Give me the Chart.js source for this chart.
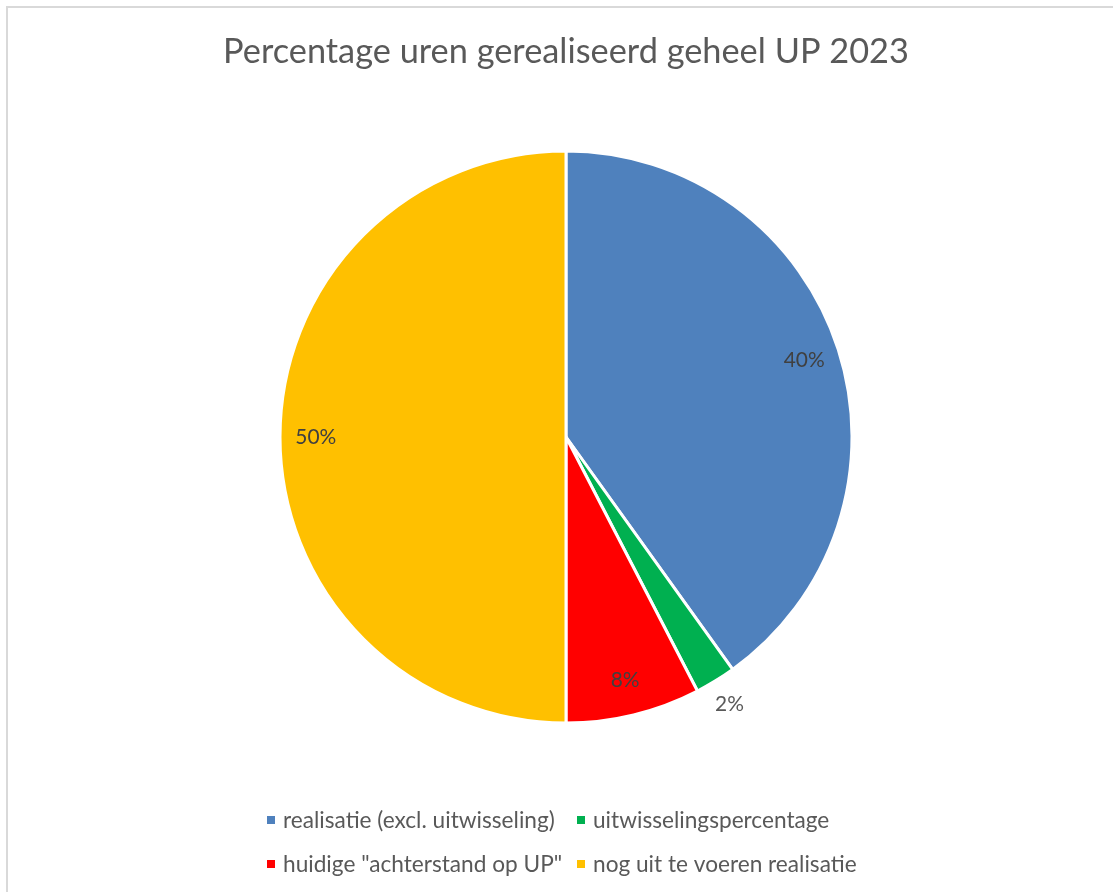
<!DOCTYPE html>
<html>
<head>
<meta charset="utf-8">
<script src="https://cdn.jsdelivr.net/npm/chart.js@4"></script>
<style>
  html, body { margin: 0; padding: 0; background: #ffffff; overflow: hidden; }
  #frame { position: absolute; left: 6px; top: 6px; width: 1300px; height: 1100px;
           border-left: 2px solid #d9d9d9; border-top: 2px solid #d9d9d9; box-sizing: border-box; }
  #c { position: absolute; left: 0; top: 0; }
</style>
</head>
<body>
<div id="frame"></div>
<canvas id="c" width="1113" height="892"></canvas>
<script>
// ---- data ----
const titleText = 'Percentage uren gerealiseerd geheel UP 2023';
const categories = [
  'realisatie (excl. uitwisseling)',
  'uitwisselingspercentage',
  'huidige "achterstand op UP"',
  'nog uit te voeren realisatie'
];
const values = [40.1, 2.3, 7.6, 50.0];
const colors = ['#4F81BD', '#00B050', '#FF0000', '#FFC000'];

// ---- font fitting ----
const FONT = 'Lato, "Open Sans", sans-serif';
const mctx = document.createElement('canvas').getContext('2d');
function fit(text, target) {
  mctx.font = '100px ' + FONT;
  return 100 * target / mctx.measureText(text).width;
}
const titleSize = fit(titleText, 686);
const legendSize = fit(categories[0], 272);
const labelSize = fit('50%', 41);

const labelPlugin = {
  id: 'pieLabels',
  afterDatasetsDraw(chart) {
    const ctx = chart.ctx;
    const meta = chart.getDatasetMeta(0);
    const data = chart.data.datasets[0].data;
    const total = data.reduce((a, b) => a + b, 0);
    ctx.save();
    ctx.font = labelSize + 'px ' + FONT;
    ctx.textAlign = 'center';
    ctx.textBaseline = 'middle';
    meta.data.forEach((arc, i) => {
      const p = arc.getProps(['x', 'y', 'startAngle', 'endAngle', 'outerRadius'], true);
      const mid = (p.startAngle + p.endAngle) / 2;
      const pct = data[i] / total * 100;
      let r, col;
      if (pct < 5) { r = p.outerRadius + 27; col = '#595959'; }
      else { r = p.outerRadius * 0.875; col = '#404040'; }
      ctx.fillStyle = col;
      ctx.fillText(Math.round(pct) + '%', p.x + Math.cos(mid) * r, p.y + Math.sin(mid) * r);
    });
    ctx.restore();
  }
};

const legendPlugin = {
  id: 'gridLegend',
  afterDraw(chart) {
    const ctx = chart.ctx;
    const colX = [267, 577];
    const rowY = [820, 864];
    ctx.save();
    ctx.font = legendSize + 'px ' + FONT;
    ctx.textAlign = 'left';
    ctx.textBaseline = 'middle';
    chart.data.labels.forEach((lab, i) => {
      const x = colX[i % 2], y = rowY[Math.floor(i / 2)];
      ctx.fillStyle = chart.data.datasets[0].backgroundColor[i];
      ctx.fillRect(x, y - 4, 8, 8);
      ctx.fillStyle = '#595959';
      ctx.fillText(lab, x + 16, y + 1);
    });
    ctx.restore();
  }
};

new Chart(document.getElementById('c'), {
  type: 'pie',
  data: {
    labels: categories,
    datasets: [{
      data: values,
      backgroundColor: colors,
      borderColor: '#ffffff',
      borderWidth: 3
    }]
  },
  options: {
    responsive: false,
    animation: false,
    devicePixelRatio: 1,
    radius: 286,
    layout: { padding: { left: 19, right: 0, top: 0, bottom: 120 } },
    plugins: {
      legend: { display: false },
      tooltip: { enabled: false },
      title: {
        display: true,
        text: titleText,
        color: '#595959',
        font: { family: FONT, size: titleSize, weight: 'normal', lineHeight: 1.2 },
        padding: { top: 52 - 0.6 * titleSize, bottom: 50 - 0.6 * titleSize }
      }
    }
  },
  plugins: [labelPlugin, legendPlugin]
});
</script>
</body>
</html>
